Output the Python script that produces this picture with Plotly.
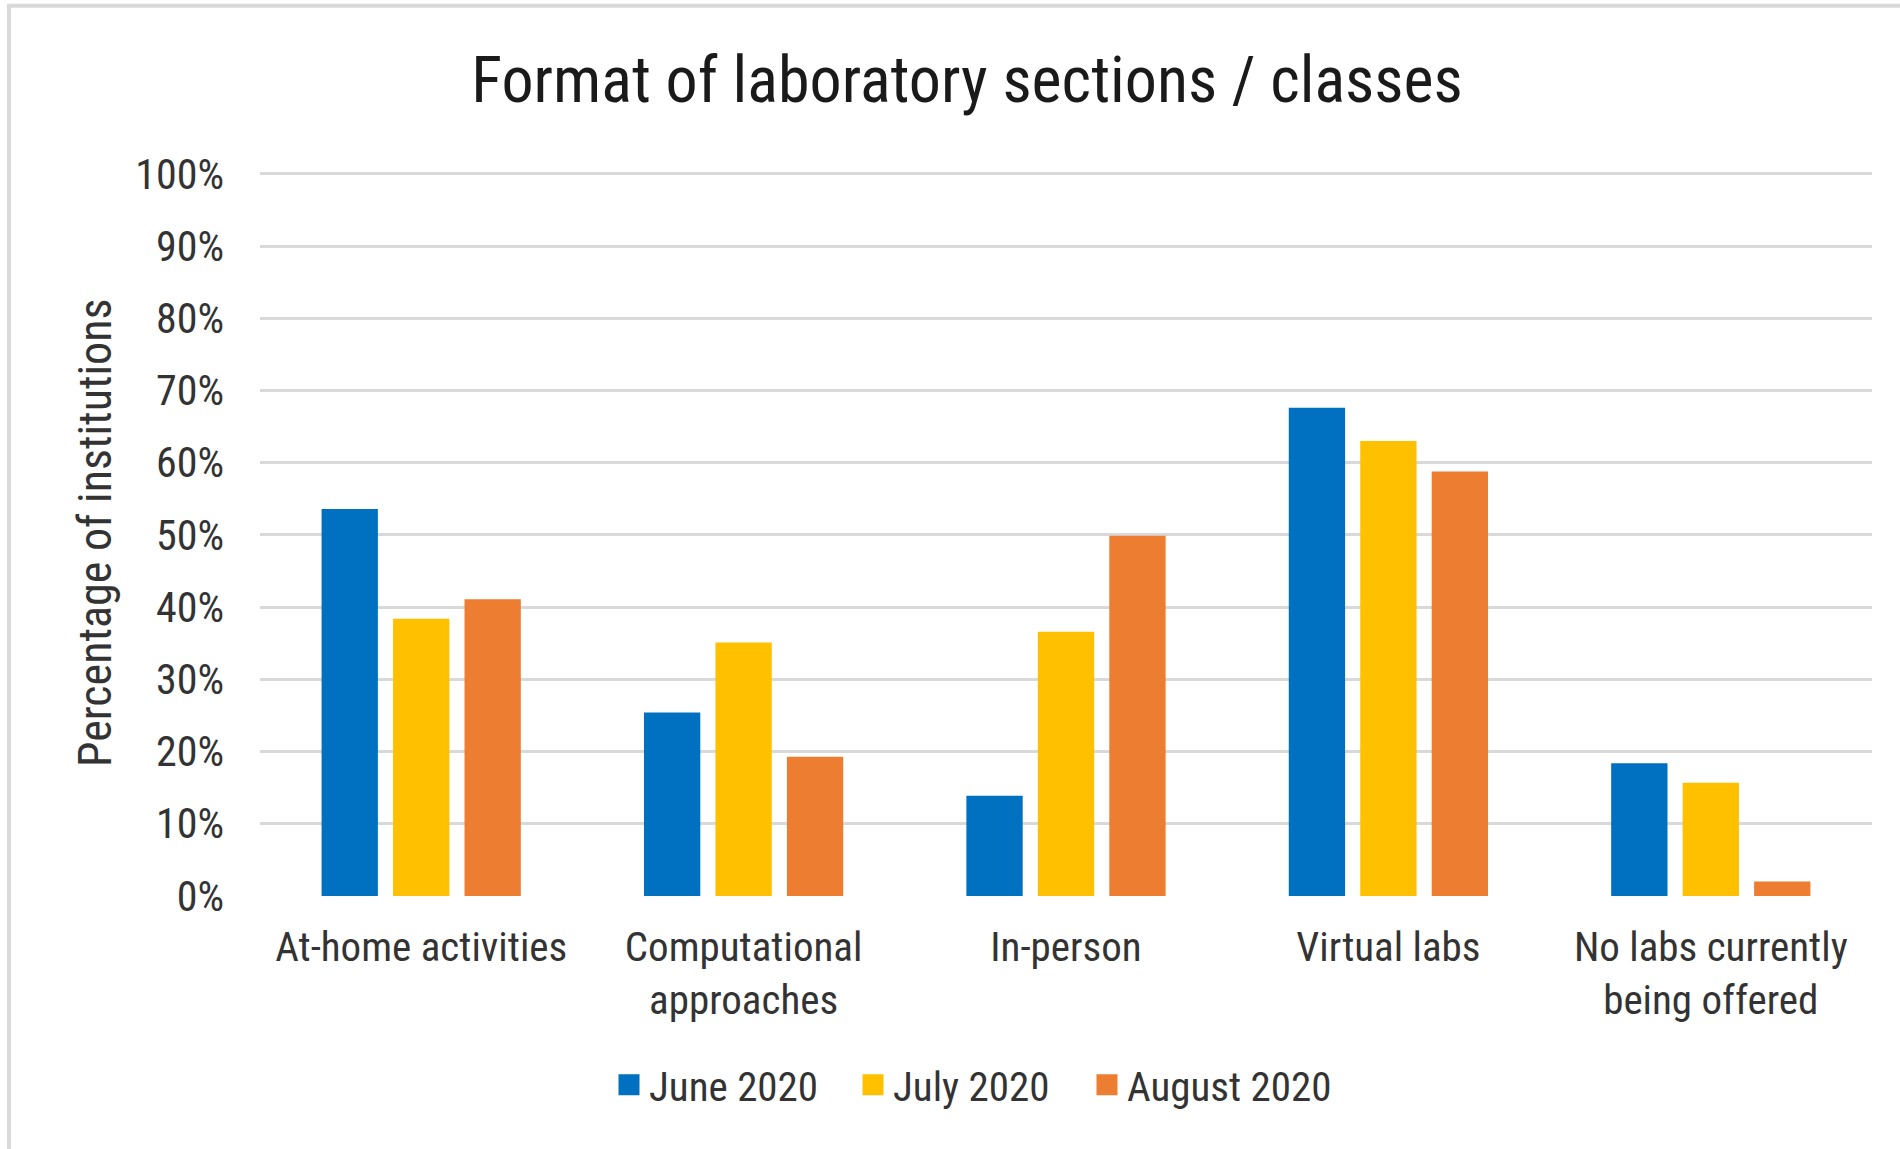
import plotly.graph_objects as go

categories = ["At-home activities", "Computational<br>approaches", "In-person",
              "Virtual labs", "No labs currently<br>being offered"]
series_names = ["June 2020", "July 2020", "August 2020"]
june_2020 = [0.536, 0.254, 0.139, 0.676, 0.184]
july_2020 = [0.384, 0.351, 0.366, 0.630, 0.157]
august_2020 = [0.411, 0.193, 0.499, 0.588, 0.020]
colors = ["#0070C0", "#FFC000", "#ED7D31"]
tick_values = [0, 0.1, 0.2, 0.3, 0.4, 0.5, 0.6, 0.7, 0.8, 0.9, 1.0]
tick_labels = ["0%", "10%", "20%", "30%", "40%", "50%", "60%", "70%", "80%", "90%", "100%"]

FONT = "Liberation Sans Narrow, Roboto Condensed, Arial Narrow, Roboto, sans-serif"
TXT = "#333333"

W, H = 1900, 1149
L, R = 260, 28
Y0, Y100 = 896, 174            # pixel rows of 0% and 100%
YMAX = 1.004
ph = (Y0 - Y100) * YMAX
T = round(Y0 - ph)
B = H - Y0
pw = W - L - R

legend_ids = ["legend", "legend2", "legend3"]
legend_left = [609, 853, 1087]

fig = go.Figure()
for name, vals, col in zip(series_names, [june_2020, july_2020, august_2020], colors):
    fig.add_trace(go.Bar(x=categories, y=vals, name=name, showlegend=False, legendgroup=name,
                         marker=dict(color=col, line=dict(width=0))))
# legend entries (square swatches), one legend per series so spacing matches
for name, col, lid in zip(series_names, colors, legend_ids):
    fig.add_trace(go.Scatter(x=[None], y=[None], mode="markers", name=name, legendgroup=name,
                             legend=lid,
                             marker=dict(symbol="square", size=16, color=col,
                                         line=dict(color=col, width=5))))

legend_style = dict(orientation="h", xref="container", xanchor="left",
                    y=1 - 1085 / H, yref="container", yanchor="middle",
                    font=dict(family=FONT, size=41, color=TXT), itemwidth=30,
                    bgcolor="rgba(0,0,0,0)")

fig.update_layout(
    width=W, height=H,
    margin=dict(l=L, r=R, t=T, b=B, autoexpand=False),
    paper_bgcolor="white", plot_bgcolor="white",
    barmode="group", bargap=0.335, bargroupgap=0.212,
    font=dict(family=FONT, color=TXT, size=40),
    title=dict(text="Format of laboratory sections / classes", x=967 / W, xref="container",
               xanchor="center", y=1 - 80 / H, yref="container", yanchor="middle",
               font=dict(family=FONT, size=64, color="#1a1a1a")),
    xaxis=dict(showgrid=False, showline=False, ticks="", tickfont=dict(size=41, color=TXT),
               ticklabelstandoff=23),
    yaxis=dict(range=[0, YMAX], tickvals=tick_values, ticktext=tick_labels, showgrid=True,
               gridcolor="#d9d9d9", gridwidth=2.5, zeroline=False, showline=False,
               tickfont=dict(size=42, color=TXT), ticklabelstandoff=35),
    legend=dict(x=legend_left[0] / W, **legend_style),
    legend2=dict(x=legend_left[1] / W, **legend_style),
    legend3=dict(x=legend_left[2] / W, **legend_style),
    annotations=[dict(text="Percentage of institutions", textangle=-90, xref="paper", yref="paper",
                      x=(94.5 - L) / pw, y=0.5, xanchor="center", yanchor="middle", showarrow=False,
                      font=dict(family=FONT, size=46, color=TXT))],
    shapes=[dict(type="rect", xref="paper", yref="paper",
                 x0=(9 - L) / pw, x1=(W + 20 - L) / pw,
                 y0=(Y0 - (H + 20)) / ph, y1=(Y0 - 6) / ph,
                 line=dict(color="#d9d9d9", width=4), fillcolor="rgba(0,0,0,0)", layer="below")],
)

fig.write_html("out.html", config={"displayModeBar": False},
               post_script="document.body.style.margin='0px';document.body.style.overflow='hidden';")
